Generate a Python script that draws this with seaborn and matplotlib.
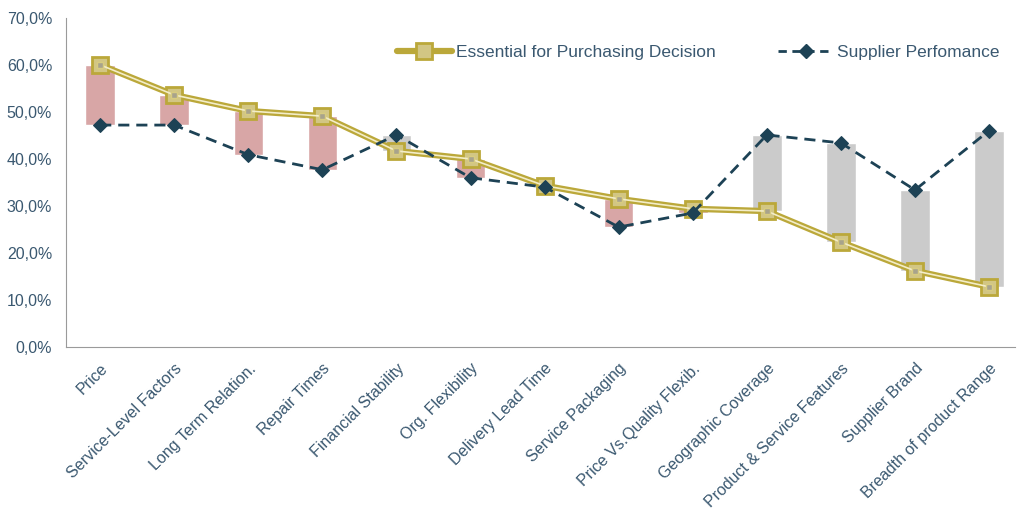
import numpy as np
import pandas as pd
import seaborn as sns
import matplotlib.pyplot as plt
from matplotlib.ticker import FuncFormatter
from matplotlib.lines import Line2D

categories = ["Price", "Service-Level Factors", "Long Term Relation.", "Repair Times",
              "Financial Stability", "Org. Flexibility", "Delivery Lead Time",
              "Service Packaging", "Price Vs.Quality Flexib.", "Geographic Coverage",
              "Product & Service Features", "Supplier Brand", "Breadth of product Range"]
essential = [60.0, 53.6, 50.2, 49.1, 41.7, 40.0, 34.3, 31.5, 29.4, 28.9, 22.3, 16.2, 12.8]
performance = [47.2, 47.2, 40.9, 37.7, 45.1, 36.0, 34.0, 25.5, 28.5, 45.1, 43.4, 33.4, 46.0]
yticks = [0, 10, 20, 30, 40, 50, 60, 70]

sns.set_style("white")
plt.rcParams['font.family'] = ['Liberation Sans', 'DejaVu Sans']

df = pd.DataFrame({"cat": categories, "x": np.arange(len(categories)),
                   "essential": essential, "performance": performance})
df["low"] = df[["essential", "performance"]].min(axis=1)
df["gap"] = (df["essential"] - df["performance"]).abs()
df["color"] = np.where(df["essential"] >= df["performance"], "#d8a6a6", "#cbcbcb")

fig = plt.figure(figsize=(10.17, 5.11), dpi=100)
ax = fig.add_axes([0.065, 0.321, 0.933, 0.644])

# floating gap bars
ax.bar(df["x"], df["gap"], bottom=df["low"], width=0.4, color=df["color"], zorder=1)

txt = "#3a5870"
gold = "#bba83a"

# essential: double gold line
sns.lineplot(data=df, x="x", y="essential", ax=ax, color=gold, lw=4.5, zorder=3,
             marker="s", markersize=12, markerfacecolor="#d2c684",
             markeredgecolor=gold, markeredgewidth=2, label="_nolegend_")
ax.plot(df["x"], df["essential"], color="#f3edc8", lw=1.2, zorder=4)
ax.plot(df["x"], df["essential"], ls="none", marker="s", markersize=5,
        markerfacecolor="#a8a38c", markeredgecolor="#d8cc80", zorder=5)

# supplier performance
sns.lineplot(data=df, x="x", y="performance", ax=ax, color="#1d4255", lw=2,
             ls=(0, (4, 2.5)), marker="D", markersize=7, markeredgecolor="#1d4255",
             zorder=6, label="_nolegend_")

h1 = Line2D([], [], color=gold, lw=4.5, marker="s", markersize=12,
            markerfacecolor="#d2c684", markeredgecolor=gold, markeredgewidth=2)
h2 = Line2D([], [], color="#1d4255", lw=2, ls=(0, (3, 2)), marker="D", markersize=7)
leg = ax.legend([h1, h2], ["Essential for Purchasing Decision", "Supplier Perfomance"],
                ncol=2, frameon=False, loc="upper right", bbox_to_anchor=(1.0, 0.965),
                fontsize=12.5, handlelength=3.2, handletextpad=0.2, columnspacing=3.6)
for t in leg.get_texts():
    t.set_color(txt)

ax.set_xlim(-0.46, 12.35)
ax.set_ylim(0, 70)
ax.set_yticks(yticks)
ax.yaxis.set_major_formatter(FuncFormatter(lambda v, p: f"{v:.1f}%".replace(".", ",")))
ax.set_xticks(df["x"])
ax.set_xticklabels(categories, rotation=45, ha="right", rotation_mode="anchor")
ax.tick_params(axis="both", length=0, colors=txt, labelsize=11.5)
ax.tick_params(axis="x", pad=10)
ax.tick_params(axis="y", pad=10)
ax.set_xlabel("")
ax.set_ylabel("")
for s in ["top", "right"]:
    ax.spines[s].set_visible(False)
for s in ["left", "bottom"]:
    ax.spines[s].set_color("#9a9a9a")

plt.savefig("out.png", dpi=100)
